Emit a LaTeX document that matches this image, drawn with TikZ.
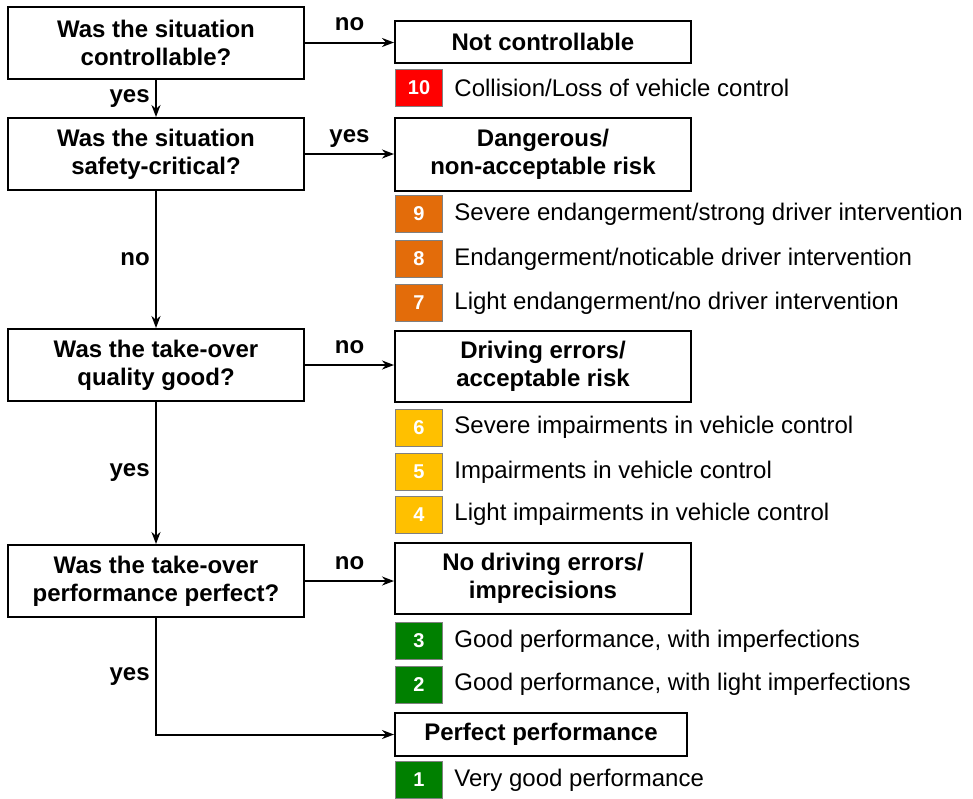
\documentclass[tikz,border=0pt]{standalone}
\usepackage{fontspec}
\setmainfont{Liberation Sans}
\usetikzlibrary{arrows.meta, positioning}
\definecolor{scRed}{HTML}{FF0000}
\definecolor{scOrange}{HTML}{E36C0A}
\definecolor{scYellow}{HTML}{FFC000}
\definecolor{scGreen}{HTML}{008000}

\begin{document}
\begin{tikzpicture}[x=1pt, y=-1pt, >=Stealth,
  question/.style={draw, line width=2pt, minimum width=296pt, minimum height=72pt, align=center, font=\fontsize{24}{28}\selectfont\bfseries},
  outcome/.style={draw, line width=2pt, minimum width=296pt, align=center, font=\fontsize{24}{28}\selectfont\bfseries},
  score/.style={draw=gray, line width=0.8pt, fill=#1, minimum width=47pt, minimum height=37pt, text=white, font=\fontsize{20}{22}\selectfont\bfseries},
  desc/.style={right=8pt of #1, font=\fontsize{24}{28}\selectfont},
  answer/.style={font=\fontsize{24}{28}\selectfont\bfseries},
  flow/.style={->, line width=2pt}]
\useasboundingbox (0,0) rectangle (973,798);
\node[question] (ctrl) at (156,42.5) {Was the situation\\controllable?};
\node[question] (safety) at (156,154) {Was the situation\\safety-critical?};
\node[question] (quality) at (156,365) {Was the take-over\\quality good?};
\node[question] (perf) at (156,581) {Was the take-over\\performance perfect?};
\node[outcome, minimum height=42pt] (notctrl) at (543,42) {Not controllable};
\node[outcome, minimum height=73pt] (danger) at (543,154.5) {Dangerous/\\non-acceptable risk};
\node[outcome, minimum height=71pt] (errors) at (543,366) {Driving errors/\\acceptable risk};
\node[outcome, minimum height=71pt] (noerr) at (543,578.5) {No driving errors/\\imprecisions};
\node[outcome, minimum width=292pt, minimum height=43pt] (perfect) at (541,734.5) {Perfect performance};
\node[score=scRed] (s10) at (419,87.5) {10};
\node[score=scOrange] (s9) at (419,214) {9};
\node[score=scOrange] (s8) at (419,259) {8};
\node[score=scOrange] (s7) at (419,303) {7};
\node[score=scYellow] (s6) at (419,427.5) {6};
\node[score=scYellow] (s5) at (419,472) {5};
\node[score=scYellow] (s4) at (419,514.5) {4};
\node[score=scGreen] (s3) at (419,641) {3};
\node[score=scGreen] (s2) at (419,684.5) {2};
\node[score=scGreen] (s1) at (419,780) {1};
\node[desc=s10] (t10) {Collision/Loss of vehicle control};
\node[desc=s9] (t9) {Severe endangerment/strong driver intervention};
\node[desc=s8] (t8) {Endangerment/noticable driver intervention};
\node[desc=s7] (t7) {Light endangerment/no driver intervention};
\node[desc=s6] (t6) {Severe impairments in vehicle control};
\node[desc=s5] (t5) {Impairments in vehicle control};
\node[desc=s4] (t4) {Light impairments in vehicle control};
\node[desc=s3] (t3) {Good performance, with imperfections};
\node[desc=s2] (t2) {Good performance, with light imperfections};
\node[desc=s1] (t1) {Very good performance};
\draw[flow] (ctrl.east) -- (ctrl.east -| notctrl.west) node[answer, midway, yshift=12pt, anchor=base] {no};
\draw[flow] (safety.east) -- (safety.east -| danger.west) node[answer, midway, yshift=12pt, anchor=base] {yes};
\draw[flow] (quality.east) -- (quality.east -| errors.west) node[answer, midway, yshift=12pt, anchor=base] {no};
\draw[flow] (perf.east) -- (perf.east -| noerr.west) node[answer, midway, yshift=12pt, anchor=base] {no};
\draw[flow] (ctrl) -- (safety) node[answer, midway, left=2pt] {yes};
\draw[flow] (safety) -- (quality) node[answer, midway, left=2pt] {no};
\draw[flow] (quality) -- (perf) node[answer, midway, left=2pt] {yes};
\draw[flow] (perf.south) |- (perfect.west) node[answer, pos=0.25, left=2pt] {yes};
\end{tikzpicture}
\end{document}
